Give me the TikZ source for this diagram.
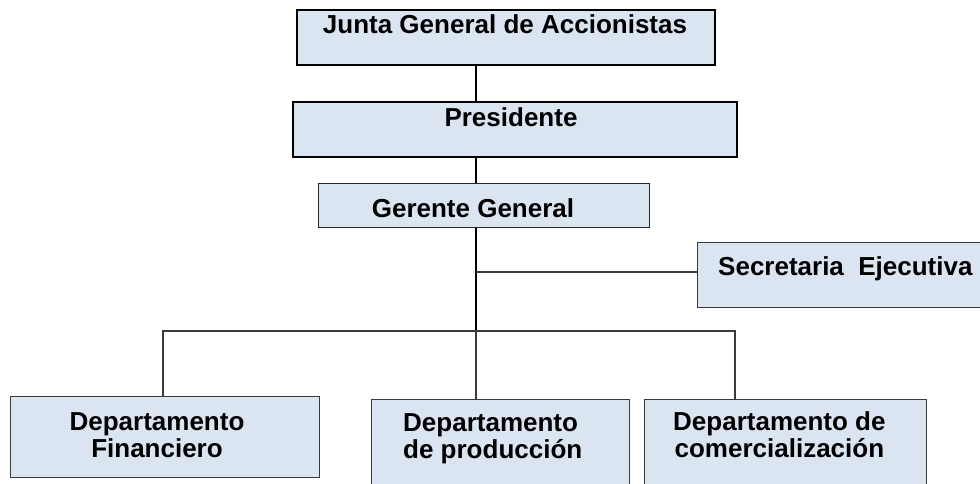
\documentclass[tikz,border=0pt]{standalone}
\usepackage{fontspec}
\setmainfont{Liberation Sans}
\definecolor{boxfill}{HTML}{DBE5F1}
\definecolor{edge}{HTML}{3A3A3A}
\begin{document}
\begin{tikzpicture}[x=1pt,y=-1pt,
  box/.style={draw=edge, fill=boxfill, line width=1.2pt, rectangle, inner sep=0pt, anchor=north west},
  bigbox/.style={box, draw=black, line width=1.8pt},
  lbl/.style={font=\fontsize{26}{26.5}\selectfont\bfseries, inner sep=0pt, anchor=base},
  conn/.style={draw=edge, line width=1.3pt},
  spine/.style={draw=black, line width=2pt}]
\useasboundingbox (0,0) rectangle (980,483);
% boxes
\node[bigbox, minimum width=418pt, minimum height=55pt] (junta) at (296,9) {};
\node[bigbox, minimum width=444pt, minimum height=55pt] (pres) at (292,101) {};
\node[box, draw=black!85, minimum width=331pt, minimum height=44pt] (ger) at (318,183) {};
\node[box, minimum width=300pt, minimum height=65pt] (sec) at (697,242) {};
\node[box, minimum width=309pt, minimum height=81pt] (fin) at (10,396) {};
\node[box, minimum width=258pt, minimum height=95pt] (prod) at (371,399) {};
\node[box, minimum width=282pt, minimum height=95pt] (com) at (644,399) {};
% texts
\node[lbl] (juntat) at (505,33) {Junta General de Accionistas};
\node[lbl] (prest) at (511,126) {Presidente};
\node[lbl] (gert) at (473,217) {Gerente General};
\node[lbl, anchor=base west] (sect) at (718,275) {Secretaria\ \ Ejecutiva};
\node[lbl, align=center] (fint) at (157,457) {Departamento\\Financiero};
\node[lbl, align=left, anchor=base west] (prodt) at (403,458) {Departamento\\de producción};
\node[lbl, align=center, anchor=base west] (comt) at (673,457) {Departamento de\\comercialización};
% connectors
\coordinate (sp) at (476,0);
\coordinate (busy) at (0,331);
\coordinate (secy) at (0,272);
\coordinate (bl) at (163,331);
\coordinate (br) at (735,331);
\draw[spine] (junta.south -| sp) -- (pres.north -| sp);
\draw[spine] (pres.south -| sp) -- (ger.north -| sp);
\draw[spine] (ger.south -| sp) -- (busy -| sp);
\draw[conn] (busy -| sp) -- (prod.north -| sp);
\draw[conn] (secy -| sp) -- (sec.west |- secy);
\draw[conn] (fin.north -| bl) -- (bl) -- (br) -- (com.north -| br);
\end{tikzpicture}
\end{document}
